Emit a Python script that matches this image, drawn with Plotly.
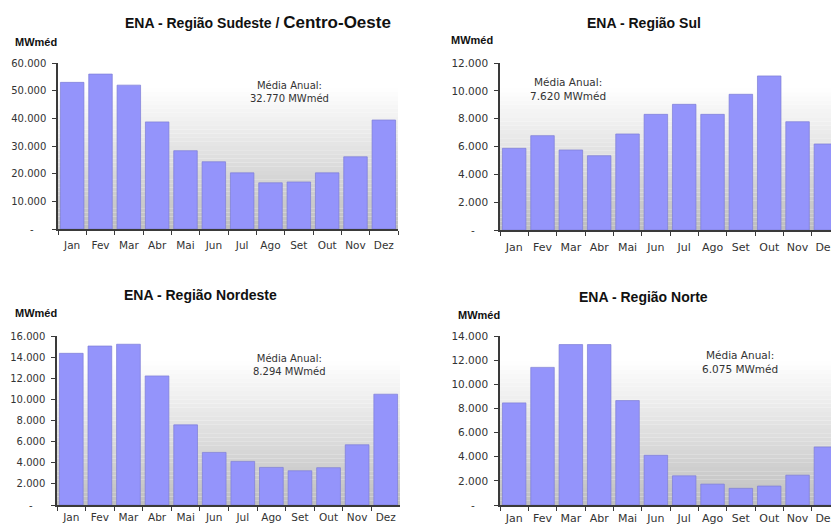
import plotly.graph_objects as go

# Monthly natural energy inflow (ENA) by region, in MWmed
months = ["Jan", "Fev", "Mar", "Abr", "Mai", "Jun", "Jul", "Ago", "Set", "Out", "Nov", "Dez"]

sudeste_co = [53000, 56000, 52000, 38700, 28300, 24300, 20300, 16700, 17000, 20300, 26100, 39400]
sul = [5870, 6780, 5750, 5340, 6900, 8310, 9030, 8310, 9750, 11070, 7780, 6180]
nordeste = [14360, 15050, 15220, 12220, 7590, 4980, 4130, 3560, 3240, 3530, 5700, 10490]
norte = [8460, 11400, 13290, 13290, 8650, 4120, 2420, 1730, 1380, 1570, 2470, 4810]

media_anual = ["32.770", "7.620", "8.294", "6.075"]

ticks_sudeste = [0, 10000, 20000, 30000, 40000, 50000, 60000]
labels_sudeste = ["-", "10.000", "20.000", "30.000", "40.000", "50.000", "60.000"]
ticks_sul = [0, 2000, 4000, 6000, 8000, 10000, 12000]
labels_sul = ["-", "2.000", "4.000", "6.000", "8.000", "10.000", "12.000"]
ticks_nordeste = [0, 2000, 4000, 6000, 8000, 10000, 12000, 14000, 16000]
labels_nordeste = ["-", "2.000", "4.000", "6.000", "8.000", "10.000", "12.000", "14.000", "16.000"]
ticks_norte = [0, 2000, 4000, 6000, 8000, 10000, 12000, 14000]
labels_norte = ["-", "2.000", "4.000", "6.000", "8.000", "10.000", "12.000", "14.000"]

W, H = 831, 526
BAR = "#9494fb"
BAR_EDGE = "#7c7cd6"
AXIS = "#3a3a3a"
TXT = "#333333"
TICK_FONT = "DejaVu Sans"
TITLE_FONT = "Liberation Sans, Arial, sans-serif"

def px_x(p):
    return p / W

def px_y(p):
    return 1 - p / H

# one dict per chart: series, y ticks, plot box in pixels, visible x range end, text spots
panels = [
    dict(y=sudeste_co, tv=ticks_sudeste, tt=labels_sudeste, top=60000,
         xd=(58, 398), yd=(63, 229), xend=11.5, xgap=6,
         title="ENA - Região Sudeste / <span style='font-size:17px'>Centro-Oeste</span>",
         tx=258, ty=23, unit=(13, 42), ann=(289, 92), fs=10),
    dict(y=sul, tv=ticks_sul, tt=labels_sul, top=12000,
         xd=(500, 831), yd=(63, 230), xend=11.18, xgap=6,
         title="ENA - Região Sul", tx=644, ty=23, unit=(449, 40), ann=(568, 89), fs=10.5),
    dict(y=nordeste, tv=ticks_nordeste, tt=labels_nordeste, top=16000,
         xd=(57, 400), yd=(336, 505), xend=11.5, xgap=2,
         title="ENA - Região Nordeste", tx=200, ty=295, unit=(13, 313), ann=(289, 365), fs=10),
    dict(y=norte, tv=ticks_norte, tt=labels_norte, top=14000,
         xd=(500, 831), yd=(336, 505), xend=11.18, xgap=2,
         title="ENA - Região Norte", tx=643, ty=297, unit=(456, 315), ann=(740, 362), fs=10.5),
]

fig = go.Figure()
layout = dict(
    width=W, height=H,
    margin=dict(l=0, r=0, t=0, b=0, autoexpand=False),
    paper_bgcolor="white",
    plot_bgcolor="rgba(0,0,0,0)",
    showlegend=False,
    bargap=0.17,
)
shapes = []
annotations = []

for i, p in enumerate(panels):
    n = "" if i == 0 else str(i + 1)
    xa, ya = "x" + n, "y" + n
    fig.add_trace(go.Bar(
        x=months, y=p["y"], xaxis=xa, yaxis=ya,
        marker=dict(color=BAR, line=dict(color=BAR_EDGE, width=0.7)),
        hoverinfo="x+y",
    ))
    layout["xaxis" + n] = dict(
        domain=[px_x(p["xd"][0]), min(1.0, px_x(p["xd"][1]))],
        anchor=ya, type="category", range=[-0.5, p["xend"]],
        showline=True, linecolor=AXIS, linewidth=1.5,
        ticks="outside", tickson="boundaries", ticklen=4, tickcolor=AXIS, tickwidth=1,
        showgrid=False, zeroline=False, fixedrange=True,
        tickangle=0, automargin=False, ticklabelstandoff=p["xgap"],
        tickfont=dict(family=TICK_FONT, size=p["fs"] + 0.5, color=TXT),
    )
    layout["yaxis" + n] = dict(
        domain=[px_y(p["yd"][1]), px_y(p["yd"][0])],
        anchor=xa, range=[0, p["top"]],
        showline=True, linecolor=AXIS, linewidth=1.5,
        ticks="outside", ticklen=4, tickcolor=AXIS, tickwidth=1,
        tickvals=p["tv"],
        ticktext=[t if t != "-" else "-" + "\u00a0" * 4 for t in p["tt"]],
        showgrid=False, zeroline=False, fixedrange=True,
        ticklabelstandoff=4, automargin=False,
        tickfont=dict(family=TICK_FONT, size=p["fs"], color=TXT),
    )

    # soft white-to-grey background behind the bars
    steps = 40
    for k in range(steps):
        t = (k + 0.5) / steps  # 0 at top, 1 at bottom
        f = max(0.0, (t - 0.15) / 0.85)
        v = int(round(255 - 65 * f))
        shapes.append(dict(
            type="rect", layer="below", line=dict(width=0),
            xref=xa + " domain", yref=ya + " domain",
            x0=0, x1=1, y0=1 - (k + 1) / steps, y1=1 - k / steps,
            fillcolor=f"rgb({v},{v},{v})",
        ))

    annotations.append(dict(
        xref="paper", yref="paper", x=px_x(p["tx"]), y=px_y(p["ty"]),
        xanchor="center", yanchor="middle", showarrow=False,
        text="<b>" + p["title"] + "</b>",
        font=dict(family=TITLE_FONT, size=14, color="#111111"),
    ))
    annotations.append(dict(
        xref="paper", yref="paper", x=px_x(p["unit"][0]), y=px_y(p["unit"][1]),
        xanchor="left", yanchor="middle", showarrow=False,
        text="<b>MWméd</b>",
        font=dict(family=TITLE_FONT, size=11, color="#111111"),
    ))
    annotations.append(dict(
        xref="paper", yref="paper", x=px_x(p["ann"][0]), y=px_y(p["ann"][1]),
        xanchor="center", yanchor="middle", showarrow=False,
        text="Média Anual:<br>" + media_anual[i] + " MWméd",
        font=dict(family=TICK_FONT, size=p["fs"], color=TXT),
    ))

layout["shapes"] = shapes
layout["annotations"] = annotations
fig.update_layout(**layout)
fig.write_html("out.html")
